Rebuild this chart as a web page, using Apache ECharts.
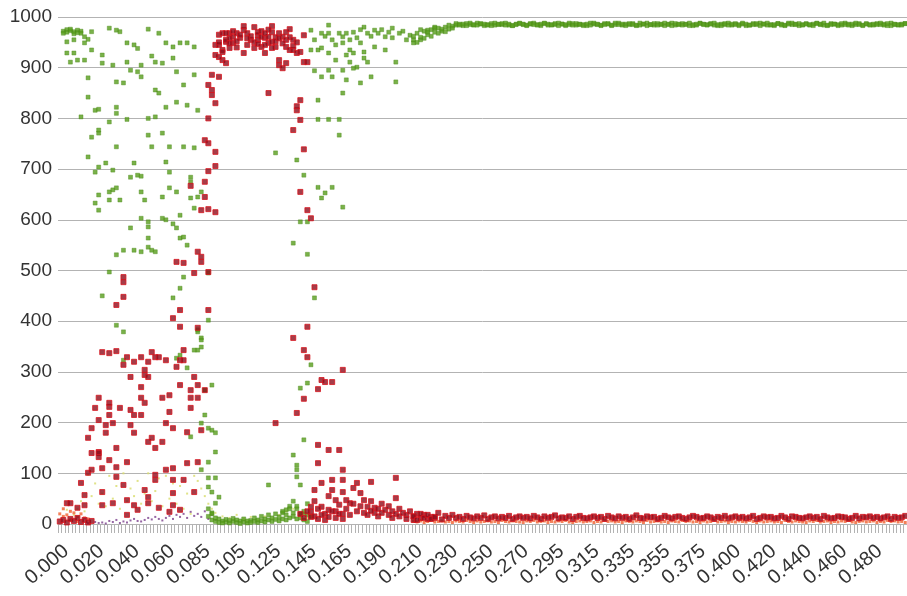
<!DOCTYPE html>
<html>
<head>
<meta charset="utf-8">
<script src="https://cdn.jsdelivr.net/npm/echarts@6/dist/echarts.min.js"></script>
<style>html,body{margin:0;padding:0;background:#fff}#c{width:907px;height:596px}</style>
</head>
<body>
<div id="c"></div>
<script>
// ---- x-axis tick labels (one label every 10 categories) ----
const tickLabels = ['0.000','0.020','0.040','0.060','0.085','0.105','0.125','0.145','0.165','0.190','0.210','0.230','0.250','0.270','0.295','0.315','0.335','0.355','0.375','0.400','0.420','0.440','0.460','0.480'];
const categoryCount = 240;
const yTicks = [0,100,200,300,400,500,600,700,800,900,1000];

// ---- green series: scattered points [categoryIndex, value] ----
const greenScatter = [
[1,972],[2,975],[2,970],[3,973],[4,971],[5,974],[5,969],[6,972],[1,968],[3,976],[4,967],
[2,951],[4,955],[2,929],[4,929],[3,911],[5,915],[7,915],[7,949],[8,956],[7,961],[6,968],[9,971],[9,935],[12,925],[8,880],[8,842],[6,803],[10,816],[11,818],[12,909],[14,978],[16,974],[17,971],[15,905],[16,872],[16,810],[16,822],[19,798],[19,911],[19,949],[21,945],[22,938],[20,895],[22,892],[23,882],[23,905],[25,976],[26,923],[27,911],[28,968],[29,909],[30,949],[32,941],[32,919],[33,892],[35,866],[34,949],[36,949],[38,941],[38,886],[39,816],[36,826],[33,832],[30,822],[27,856],[28,850],[27,803],[25,800],[18,870],
[9,763],[11,771],[11,777],[14,793],[8,724],[16,744],[25,767],[26,744],[29,771],[31,744],[35,744],[38,742],[10,694],[11,704],[13,712],[15,698],[21,712],[20,684],[22,688],[23,686],[30,714],[31,694],[37,684],[37,675],[39,645],
[11,649],[10,633],[11,619],[14,655],[15,659],[17,639],[14,639],[16,663],[23,655],[24,639],[29,645],[31,663],[33,655],[37,643],[40,655],[34,609],[38,623],
[20,584],[23,603],[25,596],[25,586],[29,603],[30,600],[32,592],[33,584],[34,564],[35,566],[36,550],[25,564],[16,531],[18,540],[21,540],[23,537],[25,546],[26,540],[27,537],[35,487],[14,497],
[12,450],[16,392],[18,379],[18,323],[32,446],[34,465],[42,495],[33,327],[34,333],[36,308],[39,343],[40,349],[39,379],[40,367],[42,402],[43,274],[37,172],[40,199],[41,215],[42,189],[44,180],[44,142],[42,122],[40,107],[42,91],[44,91],[42,73],[43,63],[44,41],[43,22],[39,383],[40,363],[38,343],[41,264],[43,185],[45,53],
[71,974],[72,955],[73,935],[71,935],[74,968],[76,984],[76,968],[74,939],[76,929],[79,968],[80,961],[78,945],[80,949],[82,935],[78,915],[81,925],[82,955],[83,970],[84,959],[85,949],[82,911],[83,929],[86,980],[87,968],[89,974],[89,941],[86,931],[86,919],[84,901],[83,899],[87,911],[90,968],[92,961],[93,970],[94,978],[96,968],[98,955],[99,964],[94,959],[92,935],[95,911],[104,974],[106,978],[102,955],[100,949],[88,962],[91,975],[97,972],[85,975],[81,968],[77,955],[75,962],
[72,894],[74,882],[76,895],[77,882],[80,895],[81,876],[85,870],[88,882],[95,872],[80,850],[73,836],[73,798],[76,798],[79,798],[79,767],[61,732],[67,718],[69,688],[73,664],[75,653],[74,643],[77,664],[80,625],[68,596],[70,596],[66,554],[70,532],[72,446],[71,314],[70,278],[68,268],[69,166],[66,136],[67,116],[67,107],[67,93],[68,77],[59,77],
[66,45],[67,30],[69,20],[70,40],[71,15],[64,28],[65,35],[63,22]
];
// green low band near zero, categories 42..70 (two readings per category)
const greenLowStart = 42;
const greenLowA = [15,8,5,3,6,4,2,5,3,6,4,2,7,5,3,6,4,8,5,9,6,10,8,12,15,10,20,25,18];
const greenLowB = [30,20,12,10,2,9,7,11,8,1,10,6,3,12,8,15,10,18,12,20,14,25,18,30,22,35,12,8,5];
// green plateau, categories 100..239
const greenPlateauStart = 100;
const greenPlateauA = [955,968,960,972,965,975,970,978,972,980,976,982,
984,986,983,987,985,984,988,986,983,985,987,984,986,985,988,984,983,986,987,985,
984,986,988,985,983,987,986,984,985,988,986,983,985,987,984,986,985,983,988,986,
985,984,987,986,983,985,988,984,986,985,987,983,984,986,988,985,984,987,985,983,
986,988,984,985,987,986,983,985,984,988,986,985,987,984,983,986,985,988,984,987,
985,986,983,984,987,985,988,986,984,985,983,987,986,984,988,985,986,983,985,987,
984,986,988,985,984,983,987,986,985,984,988,986,983,985,987,984,986,985,
984,987,985,986,983,988,985,984,986,987];
const greenPlateauB = [962,950,975,958,970,962,980,968,976,971,984,978,
987,984,986,983,988,985,984,987,986,984,983,988,985,987,984,986,983,985,988,986,
983,987,985,984,986,988,984,985,987,983,986,985,988,984,987,985,983,986,984,988,
986,983,985,987,984,988,985,986,983,987,985,984,988,986,983,985,987,984,986,988,
985,983,987,986,984,985,988,983,986,987,985,984,986,988,985,983,987,984,986,985,
983,988,986,984,985,987,983,986,988,984,985,987,984,983,986,988,985,987,984,986,
985,983,987,986,988,984,985,986,983,987,985,984,986,988,985,983,987,984,
986,985,988,984,987,983,986,985,984,987];

// ---- red series: scattered points [categoryIndex, value] ----
const redScatter = [
[2,41],[3,41],[5,32],[7,37],[6,81],[7,57],[8,101],[9,107],[8,170],[9,189],[11,205],[10,229],[11,249],[12,339],[14,337],[9,140],[11,142],[11,140],[11,132],[12,110],[12,63],[12,37],[15,41],[13,180],[13,195],[14,215],[14,231],[14,239],[15,199],[16,150],[14,126],[16,112],[16,93],[18,77],[19,47],[19,18],[18,477],[16,432],[18,448],[17,229],[16,341],[18,314],[19,329],[21,320],[20,290],[19,122],[20,225],[20,195],[21,180],[21,215],[23,215],[23,329],[25,320],[23,249],[24,239],[23,270],[24,294],[24,304],[25,290],[26,339],[27,329],[28,329],[25,162],[26,170],[27,150],[27,97],[27,87],[24,67],[25,53],[21,37],[22,28],[25,41],[28,32],[30,323],[29,249],[31,254],[30,199],[29,162],[31,221],[32,189],[30,107],[32,110],[32,406],[34,422],[35,343],[34,389],[33,310],[34,323],[35,323],[32,87],[35,87],[32,37],[31,24],[34,28],[32,61],[34,274],[36,181],[37,249],[37,229],[38,290],[37,264],[39,274],[40,185],[36,120],[39,122],[38,63],[39,249],[38,495],[39,387],[42,422],[41,264],
[18,487],[33,517],[35,515],[39,537],[40,527],[40,517],[42,497],[37,667],[41,675],[41,645],[40,619],[42,621],[44,615],[41,757],[42,751],[44,734],[42,696],[44,706],[42,800],[44,830],[42,866],[43,856],[43,846],[43,886],[45,882],
[44,945],[45,965],[46,915],[47,909],[46,935],[46,968],[47,951],[45,945],[45,921],[46,931],[48,968],[49,961],[48,939],[50,968],[51,959],[52,974],[52,982],[53,968],[52,929],[54,955],[55,980],[56,964],[56,970],[56,955],[55,939],[57,941],[58,959],[59,949],[60,982],[60,970],[59,961],[58,929],[60,951],[62,968],[61,941],[63,961],[64,970],[64,955],[65,976],[64,941],[62,915],[62,905],[63,899],[64,909],[65,935],[66,935],[67,929],[68,931],[69,911],[70,911],[69,964],[60,939],[57,961],[49,949],[47,955],
[48,958],[50,952],[51,965],[53,945],[54,962],[55,950],[57,972],[58,945],[59,975],[61,960],[61,952],[63,948],[65,960],[66,955],[49,972],[50,940],[53,958],[56,947],[58,968],[62,958],[66,943],[67,950],[44,925],[45,950],[47,968],[48,948],
[59,850],[66,777],[67,816],[67,824],[68,836],[68,797],[69,739],[68,655],[70,619],[71,603],
[72,467],[70,389],[66,367],[69,343],[70,329],[80,304],[74,284],[77,280],[75,280],[73,266],[69,247],[67,219],[61,199],[73,156],[76,146],[79,146],[73,120],[80,107],[72,67],[74,81],[77,87],[80,87],[84,81],[88,83],[95,91],[95,51],[77,67],[78,47],[80,63],[81,47],[83,71],[85,61],[82,41],[86,47],[87,34],[89,32],[89,22],[74,34],[76,28],[71,34],[71,14],[71,24],
[72,45],[73,30],[75,20],[76,55],[78,25],[79,38],[80,20],[81,30],[82,18],[83,40],[84,25],[85,35],[86,22],[87,18],[88,45],[88,26],[90,30],[90,15],[91,40],[91,22],[92,28],[93,18],[93,35],[94,25],[94,12],[95,20],[96,30],[96,15],[97,22],[98,18],[98,10],[99,25],[100,15],[100,8],[101,20],[102,12],[103,18],[104,10],[105,14],[106,12],
[68,20],[69,12],[70,25],[72,15],[73,10],[74,18],[75,8],[76,14],[77,25],[78,12],[79,20],[80,10],
[0,5],[1,8],[2,3],[3,10],[4,6],[5,12],[6,4],[7,8],[8,3],[9,6]
];
// red low band, categories 100..239
const redBandStart = 100;
const redBand = [15,8,20,12,18,10,14,22,9,16,12,18,
12,14,10,16,13,11,15,12,17,10,13,15,11,14,12,16,10,13,15,12,
14,11,16,13,10,15,12,14,17,11,13,12,15,10,14,16,12,11,13,15,
12,14,10,16,13,11,15,12,14,10,13,17,12,11,15,13,14,10,12,16,
13,11,14,15,12,10,13,16,14,11,12,15,13,10,14,12,16,11,13,15,
12,14,11,13,16,10,12,15,13,14,11,12,16,13,10,15,14,12,11,13,
15,12,14,10,16,13,11,12,15,14,13,10,12,16,11,14,13,15,
12,14,11,13,15,10,14,12,13,16];

// ---- orange series ----
const orangeScatter = [[0,20],[1,15],[2,18],[3,25],[4,22],[5,14],[6,20],[7,12],[1,30],[3,8],[5,5],[8,10]];
const orangeBandStart = 100;
const orangeBand = [5,4,6,3,5,7,4,5,6,4,5,3,6,5,4,7,5,3,6,4,
5,6,4,5,3,7,5,4,6,5,4,3,6,5,7,4,5,6,3,5,
4,6,5,7,4,3,5,6,4,5,6,3,5,4,7,5,6,4,5,3,
6,5,4,6,5,3,7,4,5,6,4,5,3,6,5,4,7,5,6,4,
5,3,6,4,5,7,4,5,6,3,5,4,6,5,4,7,5,3,6,4,
5,6,4,5,3,7,5,4,6,5,4,3,6,5,7,4,5,6,3,5,
4,6,5,7,4,3,5,6,4,5,6,3,5,4,7,5,6,4,5,3];

// ---- yellow series ----
const yellowScatter = [[8,97],[10,80],[12,60],[14,95],[18,100],[20,70],[22,85],[25,100],[27,65],[28,90],[30,95],[32,80],[34,75],[36,60],[38,95],[39,85],[40,70],[41,55],[42,40],[43,30],[44,22],[46,15],[48,12],[50,18],[52,10],[54,14],[56,8],[58,15],[60,10],[62,18],[64,25],[66,30],[68,20],[70,12],[5,30],[6,45],[7,25],[9,55],[11,40],[13,35],[15,50],[16,75],[17,30],[19,45],[21,55],[23,40],[24,60],[26,45],[29,35],[31,50],[33,40],[35,30],[37,20],[2,28],[4,18]];

// ---- purple series ----
const purpleScatter = [[8,2],[10,4],[12,3],[14,6],[15,4],[16,8],[18,5],[19,3],[20,7],[21,10],[22,6],[24,8],[25,12],[26,9],[27,14],[28,10],[29,7],[30,12],[31,16],[32,10],[33,18],[34,14],[35,20],[36,12],[37,24],[38,16],[39,20],[40,14],[41,25],[42,10],[43,18],[44,8],[17,2],[23,5],[13,1],[11,2]];

// ---- build ----
const categories = [];
for (let i = 0; i < categoryCount; i++) {
  categories.push(i % 10 === 0 ? tickLabels[i / 10] : tickLabels[Math.floor(i / 10)] + '#' + (i % 10));
}
function band(start, arr) { return arr.map((v, i) => [start + i, v]); }

const greenData = greenScatter
  .concat(band(greenLowStart, greenLowA), band(greenLowStart, greenLowB))
  .concat(band(greenPlateauStart, greenPlateauA), band(greenPlateauStart, greenPlateauB));
const redData = redScatter.concat(band(redBandStart, redBand));
const orangeData = orangeScatter.concat(band(orangeBandStart, orangeBand));

const chart = echarts.init(document.getElementById('c'), null, {renderer: 'canvas'});
const FONT = 'Liberation Sans';
chart.setOption({
  animation: false,
  backgroundColor: '#ffffff',
  grid: {left: 58, right: 0, top: 17, bottom: 72, containLabel: false, outerBoundsMode: 'none'},
  xAxis: {
    type: 'category',
    data: categories,
    boundaryGap: true,
    axisLine: {show: true, lineStyle: {color: '#b3b3b3', width: 1}},
    axisTick: {show: true, interval: 0, length: 9, lineStyle: {color: '#b3b3b3'}},
    axisLabel: {
      interval: 9, rotate: 40, fontSize: 20, color: '#333333', fontFamily: FONT, margin: 17,
      verticalAlign: 'top', lineHeight: 20, hideOverlap: false,
      showMinLabel: true, showMaxLabel: true,
      formatter: v => (v.indexOf('#') >= 0 ? '' : v)
    },
    splitLine: {show: false}
  },
  yAxis: {
    type: 'value',
    min: yTicks[0], max: yTicks[yTicks.length - 1], interval: 100,
    axisLine: {show: false},
    axisTick: {show: false},
    axisLabel: {fontSize: 19, color: '#333333', fontFamily: FONT, margin: 6, formatter: v => String(v)},
    splitLine: {show: true, lineStyle: {color: '#b3b3b3', width: 1}}
  },
  series: [
    {type: 'scatter', name: 'yellow', data: yellowScatter, symbol: 'rect', symbolSize: 2,
      itemStyle: {color: '#d8dc6a'}, z: 1},
    {type: 'scatter', name: 'purple', data: purpleScatter, symbol: 'rect', symbolSize: 2,
      itemStyle: {color: '#7b3f8c'}, z: 2},
    {type: 'scatter', name: 'green', data: greenData, symbol: 'rect', symbolSize: 4,
      itemStyle: {color: '#579d1c', borderColor: '#4a8a18', borderWidth: 0.5}, z: 3},
    {type: 'scatter', name: 'orange', data: orangeData, symbol: 'rect', symbolSize: 3,
      itemStyle: {color: '#f06030'}, z: 4},
    {type: 'scatter', name: 'red', data: redData, symbol: 'rect', symbolSize: 5,
      itemStyle: {color: '#8e0c1c', borderColor: '#d8161f', borderWidth: 1}, z: 5}
  ]
});
</script>
</body>
</html>
